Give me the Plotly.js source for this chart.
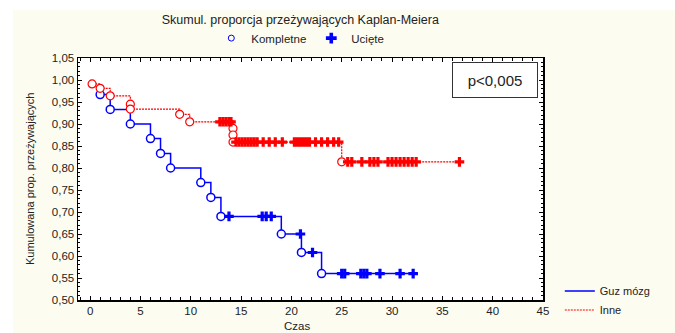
<!DOCTYPE html>
<html><head><meta charset="utf-8">
<script src="https://cdn.plot.ly/plotly-3.0.1.min.js"></script>
<style>html,body{margin:0;padding:0;background:#fff;overflow:hidden}
#chart{position:absolute;left:13px;top:10px;width:662px;height:323px}</style>
</head><body><div id="chart"></div>
<script>
// Guz mózg (blue)
const guzEventTimes = [1, 2, 4, 6, 7, 8, 11, 12, 13, 19, 21, 23];
const guzEventSurv  = [0.967, 0.933, 0.9, 0.867, 0.833, 0.8, 0.767, 0.733, 0.69, 0.65, 0.608, 0.56];
const guzCensorTimes = [13.8, 17.1, 17.5, 18.0, 20.9, 22.1, 25.0, 25.3, 26.9, 27.2, 27.5, 28.8, 30.8, 32.1];
const guzEnd = 32.2;
// Inne (red)
const inneEventTimes = [0.2, 1, 2, 4, 4, 8.9, 9.9, 14.2, 14.2, 14.2, 25];
const inneEventSurv  = [0.991, 0.981, 0.964, 0.945, 0.934, 0.922, 0.905, 0.89, 0.875, 0.859, 0.814];
const inneCensorTimes = [12.9, 13.2, 13.5, 13.8, 14.0,
  14.5, 14.8, 15.1, 15.4, 15.7, 16.0, 16.3, 16.6, 17.2, 17.8, 18.4, 19.1,
  20.3, 20.6, 20.9, 21.2, 21.5, 21.8, 22.4, 23.0, 23.6, 24.2, 24.7,
  25.6, 26.0, 27.0, 27.8, 28.2, 28.6, 29.6, 30.0, 30.4, 30.8, 31.2, 31.6, 32.0, 32.4, 36.7];
const inneEnd = 36.7;

const xTickVals = [0,5,10,15,20,25,30,35,40,45];
const yTickVals = [0.5,0.55,0.6,0.65,0.7,0.75,0.8,0.85,0.9,0.95,1.0,1.05];

const BLUE = '#0000FF', RED = '#FF0000';

function levelAt(times, surv, t) {
  let s = 1;
  for (let i = 0; i < times.length; i++) if (times[i] <= t) s = surv[i];
  return s;
}

const traces = [
  {x: guzEventTimes.concat([guzEnd]), y: guzEventSurv.concat([guzEventSurv[guzEventSurv.length-1]]),
   mode: 'lines', line: {shape: 'hv', color: BLUE, width: 1.5}, name: 'Guz mózg', legend: 'legend'},
  {x: inneEventTimes.concat([inneEnd]), y: inneEventSurv.concat([inneEventSurv[inneEventSurv.length-1]]),
   mode: 'lines', line: {shape: 'hv', color: RED, width: 1.2, dash: '2px,1px'}, name: 'Inne', legend: 'legend'},
  {x: guzEventTimes, y: guzEventSurv, mode: 'markers', showlegend: false,
   marker: {symbol: 'circle', size: 8, color: '#fff', line: {color: BLUE, width: 1.5}}},
  {x: inneEventTimes, y: inneEventSurv, mode: 'markers', showlegend: false,
   marker: {symbol: 'circle', size: 8, color: '#fff', line: {color: RED, width: 1.2}}},
  {x: guzCensorTimes, y: guzCensorTimes.map(t => levelAt(guzEventTimes, guzEventSurv, t)), mode: 'markers', showlegend: false,
   marker: {symbol: 'cross', size: 8, color: BLUE, line: {width: 0}}},
  {x: inneCensorTimes, y: inneCensorTimes.map(t => levelAt(inneEventTimes, inneEventSurv, t)), mode: 'markers', showlegend: false,
   marker: {symbol: 'cross', size: 8, color: RED, line: {width: 0}}},
  {x: [null], y: [null], mode: 'markers', name: 'Kompletne', legend: 'legend2',
   marker: {symbol: 'circle-open', size: 6, color: BLUE, line: {width: 1}}},
  {x: [null], y: [null], mode: 'markers', name: 'Ucięte', legend: 'legend2',
   marker: {symbol: 'cross', size: 9, color: BLUE}}
];

const FONT = 'Liberation Sans, Arial, sans-serif';
const layout = {
  width: 662, height: 323,
  paper_bgcolor: '#FDFCF0', plot_bgcolor: '#FFFFFF',
  margin: {l: 65, r: 132, t: 48, b: 33},
  separators: ', ',
  font: {family: FONT, size: 11, color: '#222'},
  title: {text: 'Skumul. proporcja przeżywających Kaplan-Meiera', font: {size: 12.5, color: '#222'},
          x: 0.434, xref: 'container', xanchor: 'center', y: 0.969, yref: 'container', yanchor: 'middle'},
  xaxis: {range: [-1.2, 45], tickvals: xTickVals, ticks: 'inside', ticklen: 4, tickcolor: '#000',
          showline: true, linecolor: '#000', linewidth: 1.5, mirror: 'allticks', showgrid: false, zeroline: false,
          minor: {dtick: 1, tick0: 0, ticks: 'inside', ticklen: 3, tickcolor: '#000', showgrid: false},
          tickfont: {size: 11.5, color: '#222'}, fixedrange: true},
  yaxis: {range: [0.5, 1.05], tickvals: yTickVals, tickformat: '.2f', ticks: 'inside', ticklen: 4, tickcolor: '#000',
          showline: true, linecolor: '#000', linewidth: 1.5, mirror: 'allticks', showgrid: false, zeroline: false,
          minor: {dtick: 0.01, tick0: 0.5, ticks: 'inside', ticklen: 2, tickcolor: '#000', showgrid: false},
          tickfont: {size: 11.5, color: '#222'}, fixedrange: true},
  legend: {x: 0.826, y: 0.175, xref: 'container', yref: 'container', xanchor: 'left', yanchor: 'top',
           bgcolor: 'rgba(0,0,0,0)', font: {size: 11, color: '#222'}, itemwidth: 30, tracegroupgap: 0},
  legend2: {orientation: 'h', x: 0.434, y: 0.913, xref: 'container', yref: 'container', xanchor: 'center', yanchor: 'middle',
            bgcolor: 'rgba(0,0,0,0)', font: {size: 11.5, color: '#222'}, itemwidth: 30},
  annotations: [
    {text: 'Kumulowana prop. przeżywających', xref: 'paper', yref: 'paper', x: 0, y: 0.5, xshift: -48,
     textangle: -90, showarrow: false, font: {size: 11, color: '#222'}, xanchor: 'center', yanchor: 'middle'},
    {text: 'Czas', xref: 'paper', yref: 'paper', x: 0.47, y: 0, yshift: -26, showarrow: false,
     font: {size: 11.5, color: '#222'}, xanchor: 'center', yanchor: 'middle'},
    {text: 'p<0,005', xref: 'paper', yref: 'paper', x: (495-78)/465, y: 1 - (80-58)/242, showarrow: false,
     font: {size: 15, color: '#222'}, xanchor: 'center', yanchor: 'middle', bordercolor: '#333', borderwidth: 1,
     borderpad: 2, bgcolor: '#fff', width: 80, height: 30}
  ]
};
Plotly.newPlot('chart', traces, layout, {displayModeBar: false, staticPlot: true});
</script></body></html>
